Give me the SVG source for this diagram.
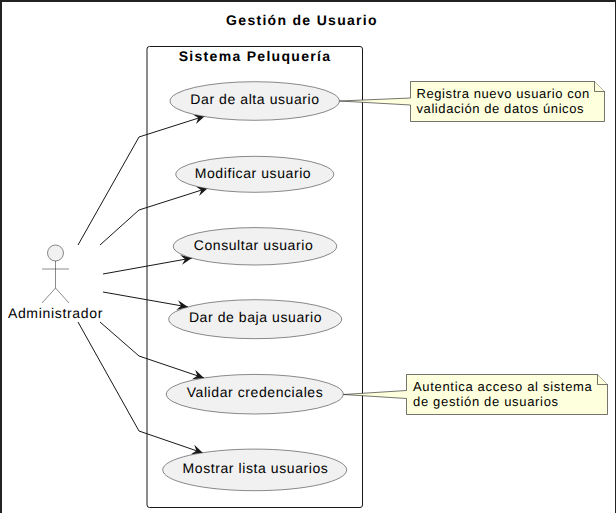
<svg xmlns="http://www.w3.org/2000/svg" width="616" height="513" viewBox="0 0 616 513">
<style>
text{font-family:"Liberation Sans",Arial,sans-serif;fill:#000;text-rendering:geometricPrecision}
.t{font-size:14px;font-weight:bold;letter-spacing:1.3px}
.u{font-size:14px;text-anchor:middle;letter-spacing:.58px}
.n{font-size:13px;letter-spacing:.58px}
.n2{font-size:13px;letter-spacing:.68px}
.uc{fill:#f1f1f1;stroke:#181818;stroke-width:.5}
.note{fill:#feffdd;stroke:#181818;stroke-width:.6}
.a{fill:none;stroke:#181818;stroke-width:1}
</style>
<defs><marker id="arr" markerUnits="userSpaceOnUse" markerWidth="14" markerHeight="12" refX="11" refY="5" orient="auto"><path d="M0 0L11 5L0 10L4 5Z" fill="#181818"/></marker></defs>
<rect width="616" height="513" fill="#fff"/>
<path d="M0 0H616V513H615V2H2V513H0Z" fill="#222"/>
<text class="t" x="302" y="25" text-anchor="middle">Gestión de Usuario</text>
<g id="system"><rect x="147" y="46.500" width="215.500" height="461" rx="2.500" fill="#fff" stroke="#181818" stroke-width="1"/><text class="t" x="255" y="61" text-anchor="middle">Sistema Peluquería</text></g>
<g id="connectors">
<path class="a" marker-end="url(#arr)" d="M78 245L139 137L205 116"/>
<path class="a" marker-end="url(#arr)" d="M100 245L139 210L208 188"/>
<path class="a" marker-end="url(#arr)" d="M103 274L192 258"/>
<path class="a" marker-end="url(#arr)" d="M103 292L188 307"/>
<path class="a" marker-end="url(#arr)" d="M100 322L139 356L204 378"/>
<path class="a" marker-end="url(#arr)" d="M78 322L139 431L203 453"/>
</g>
<g id="actor"><circle cx="55.500" cy="253" r="8" fill="#f1f1f1" stroke="#181818" stroke-width=".5"/><path d="M55.500 261V288M42 269H69M55.500 288L42 303M55.500 288L69 303" fill="none" stroke="#181818" stroke-width=".5"/><text x="55.500" y="318" class="u" style="letter-spacing:.68px">Administrador</text></g>
<g id="uc1"><ellipse class="uc" cx="254.700" cy="101" rx="84.700" ry="19.300"/><text class="u" x="255" y="104">Dar de alta usuario</text></g>
<g id="uc2"><ellipse class="uc" cx="254.800" cy="174.300" rx="79" ry="18"/><text class="u" x="253" y="178">Modificar usuario</text></g>
<g id="uc3"><ellipse class="uc" cx="255" cy="246.300" rx="81.700" ry="18.700"/><text class="u" x="253.500" y="250">Consultar usuario</text></g>
<g id="uc4"><ellipse class="uc" cx="255.200" cy="319.200" rx="86.500" ry="19.500"/><text class="u" x="255.500" y="322">Dar de baja usuario</text></g>
<g id="uc5"><ellipse class="uc" cx="254.800" cy="394.200" rx="88.500" ry="19.800"/><text class="u" x="255" y="397">Validar credenciales</text></g>
<g id="uc6"><ellipse class="uc" cx="254.700" cy="469.900" rx="92" ry="20.800"/><text class="u" x="255.500" y="473">Mostrar lista usuarios</text></g>
<g id="note1"><path class="note" d="M410.500 81.500H594.500L604.500 91.500V121.500H410.500V105L339.500 101L410.500 98Z"/><path class="note" d="M594.500 81.500V91.500H604.500"/><text class="n" x="416.500" y="98">Registra nuevo usuario con</text><text class="n" x="416.500" y="113">validación de datos únicos</text></g>
<g id="note2"><path class="note" d="M406.500 374.500H597.500L607.500 384.500V414.500H406.500V398.500L343.500 394.500L406.500 390.500Z"/><path class="note" d="M597.500 374.500V384.500H607.500"/><text class="n2" x="413" y="391">Autentica acceso al sistema</text><text class="n2" x="413" y="406">de gestión de usuarios</text></g>
</svg>
